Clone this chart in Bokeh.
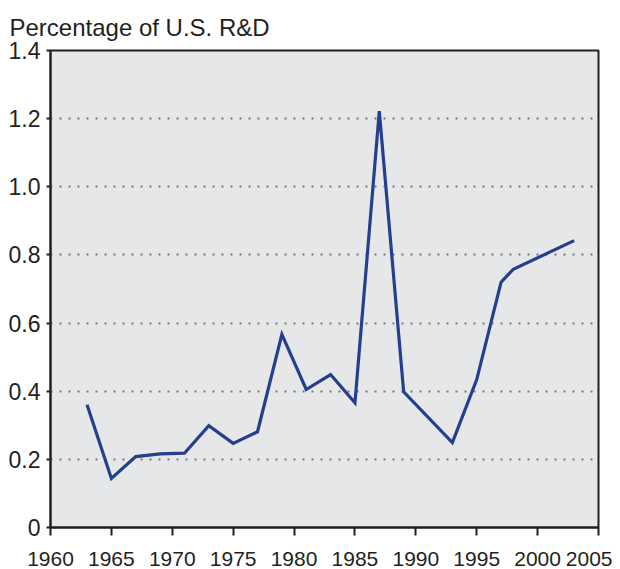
from bokeh.plotting import figure
from bokeh.models import FixedTicker, Range1d, Title
from bokeh.embed import file_html
from bokeh.resources import INLINE

years = [1963, 1965, 1967, 1969, 1971, 1973, 1975, 1977, 1979, 1981, 1983,
         1985, 1987, 1989, 1993, 1995, 1997, 1998, 2003]
share = [0.36, 0.144, 0.208, 0.216, 0.218, 0.299, 0.247, 0.281, 0.567, 0.405,
         0.449, 0.366, 1.222, 0.398, 0.249, 0.434, 0.72, 0.758, 0.842]

x_ticks = [1960, 1965, 1970, 1975, 1980, 1985, 1990, 1995, 2000, 2005]
y_ticks = [0, 0.2, 0.4, 0.6, 0.8, 1.0, 1.2, 1.4]
y_tick_labels = ["0", "0.2", "0.4", "0.6", "0.8", "1.0", "1.2", "1.4"]
title_text = "Percentage of U.S. R&D"

FONT = "Liberation Sans, Arial, sans-serif"
DARK = "#231F20"

p = figure(width=612, height=568, output_backend="svg", toolbar_location=None,
           x_range=Range1d(1960, 2005), y_range=Range1d(0, 1.4),
           min_border_left=50, min_border_right=14, min_border_top=50,
           min_border_bottom=40)
p.title = None
t = Title(text=title_text, align="left", text_font=FONT, text_font_size="24px",
          text_font_style="normal", text_color=DARK, offset=-41, standoff=19)
p.add_layout(t, "above")

p.border_fill_color = "white"
p.background_fill_color = "#E6E7E9"
p.outline_line_color = DARK
p.outline_line_width = 2

p.line(years, share, line_color="#243F8C", line_width=3.2, line_join="miter")

xa = p.xaxis[0]
xa.ticker = FixedTicker(ticks=x_ticks)
xa.minor_tick_line_color = None
xa.axis_line_color = DARK
xa.axis_line_width = 2
xa.major_tick_line_color = DARK
xa.major_tick_line_width = 2
xa.major_tick_out = 8
xa.major_tick_in = 0
xa.major_label_standoff = 16
xa.major_label_text_font = FONT
xa.major_label_text_font_size = "21px"
xa.major_label_text_color = DARK

ya = p.yaxis[0]
ya.ticker = FixedTicker(ticks=y_ticks)
ya.major_label_overrides = {v: s for v, s in zip(y_ticks, y_tick_labels)}
ya.minor_tick_line_color = None
ya.axis_line_color = DARK
ya.axis_line_width = 2
ya.major_tick_line_color = DARK
ya.major_tick_line_width = 2
ya.major_tick_out = 4
ya.major_tick_in = 0
ya.major_label_standoff = 6
ya.major_label_text_font = FONT
ya.major_label_text_font_size = "23px"
ya.major_label_text_color = DARK

p.xgrid.grid_line_color = None
p.ygrid.ticker = FixedTicker(ticks=y_ticks[1:-1])
p.ygrid.grid_line_color = "#777777"
p.ygrid.grid_line_width = 2
p.ygrid.grid_line_dash = "2 7"

open("out.html", "w").write(file_html(p, INLINE))
